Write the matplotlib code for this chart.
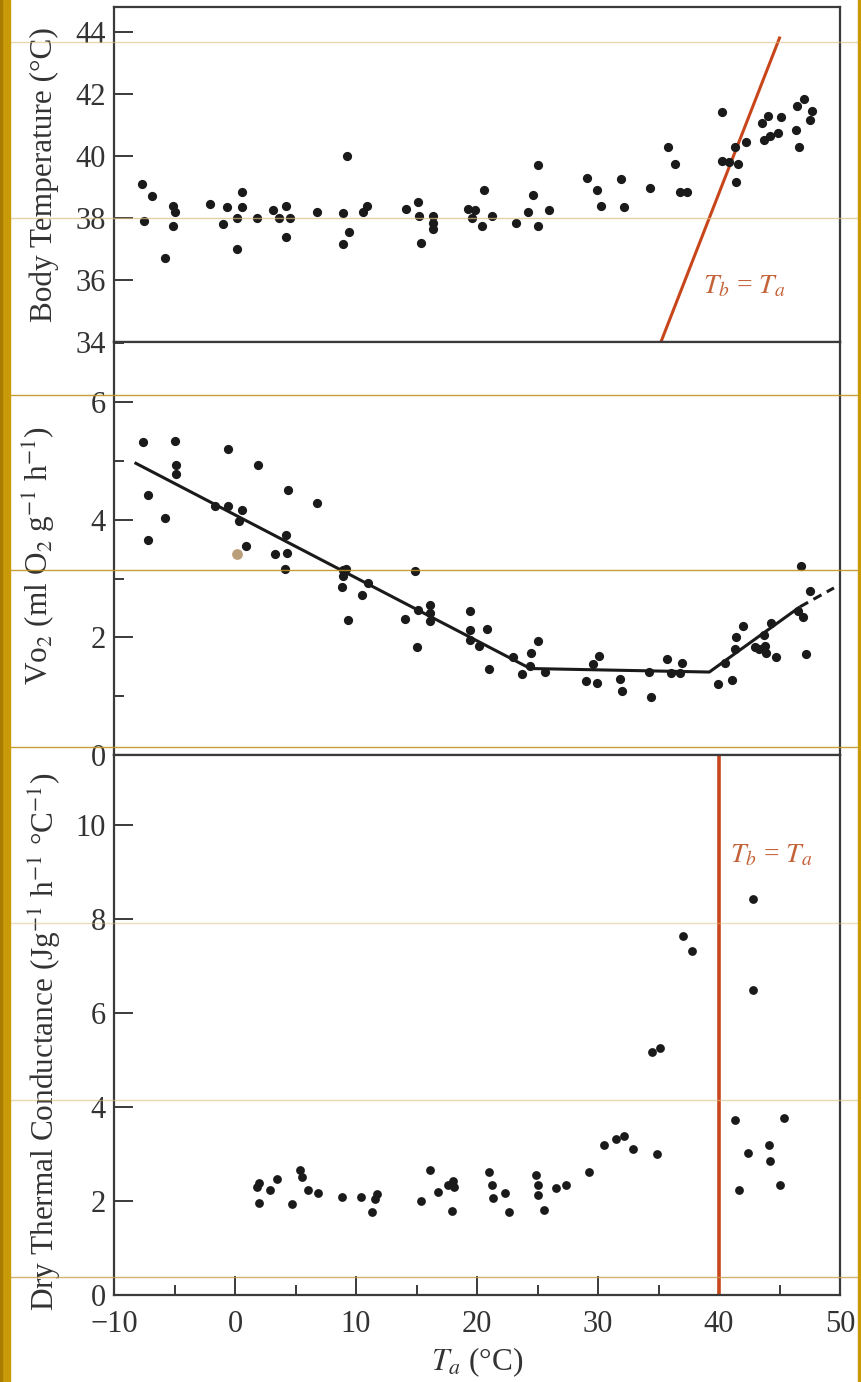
import matplotlib
matplotlib.use('Agg')
import matplotlib.pyplot as plt
from matplotlib.lines import Line2D
from matplotlib.patches import Rectangle
from matplotlib.ticker import MultipleLocator

plt.rcParams['font.family'] = ['Liberation Serif', 'DejaVu Serif']
plt.rcParams['mathtext.fontset'] = 'stix'

# ---------------- data ----------------
# Panel 1: body temperature vs ambient temperature
bt_ta = [-7.7, -7.5, -6.9, -5.8, -5.1, -5.0, -5.1,
         -2.1, -1.0, -0.7, 0.15, 0.15, 0.55, 0.55, 1.85,
         3.1, 3.65, 4.2, 4.55, 4.2, 6.8,
         8.9, 9.25, 9.4, 8.95, 10.55, 10.9,
         14.15, 15.1, 15.2, 15.4, 16.4, 16.4, 16.4,
         19.25, 19.8, 19.6, 20.55, 20.4, 21.25,
         23.25, 24.2, 24.6, 25.0, 25.05, 25.95,
         29.05, 29.95, 30.25, 31.9, 32.15, 34.3,
         35.8, 36.35, 36.75, 37.35,
         40.25, 40.25, 40.8, 41.35, 41.55, 41.4, 42.2,
         43.55, 44.05, 45.1, 43.7, 44.25, 44.9,
         46.45, 47.0, 46.4, 46.6, 47.65, 47.5]
bt_tb = [39.1, 37.9, 38.7, 36.7, 38.4, 38.2, 37.75,
         38.45, 37.8, 38.35, 38.0, 37.0, 38.85, 38.35, 38.0,
         38.25, 38.0, 38.4, 38.0, 37.4, 38.2,
         38.15, 40.0, 37.55, 37.15, 38.2, 38.4,
         38.3, 38.5, 38.05, 37.2, 38.05, 37.85, 37.65,
         38.3, 38.25, 38.0, 38.9, 37.75, 38.05,
         37.85, 38.2, 38.75, 37.75, 39.7, 38.25,
         39.3, 38.9, 38.4, 39.25, 38.35, 38.95,
         40.3, 39.75, 38.85, 38.85,
         41.4, 39.85, 39.8, 40.3, 39.75, 39.15, 40.45,
         41.05, 41.3, 41.25, 40.5, 40.65, 40.75,
         41.6, 41.85, 40.85, 40.3, 41.45, 41.15]
# Tb = Ta reference line (panel 1)
iso_ta = [35.2, 45.0]
iso_tb = [34.0, 43.8]

# Panel 2: oxygen consumption
vo_ta = [-7.6, -7.2, -7.15, -5.8, -4.95, -4.9, -4.85,
         -1.65, -0.55, -0.6, 0.6, 0.35, 0.95, 1.9,
         4.35, 4.2, 3.3, 4.3, 4.1, 6.8,
         8.9, 8.9, 9.2, 8.85, 9.3, 10.5, 11.0,
         14.05, 14.85, 15.1, 15.05, 16.1, 16.1, 16.1,
         19.4, 19.45, 19.4, 20.2, 20.8, 21.0,
         23.0, 23.75, 24.45, 24.4, 25.05, 25.6,
         29.0, 29.95, 29.6, 30.1, 31.85, 31.95,
         34.2, 34.35, 35.7, 36.05, 36.95, 36.8,
         39.95, 41.1, 40.5, 41.35, 41.4, 41.95,
         43.0, 43.3, 43.8, 43.85, 43.7, 44.3, 44.75,
         46.55, 46.95, 46.75, 47.5, 47.2]
vo_val = [5.32, 4.42, 3.65, 4.03, 5.34, 4.93, 4.77,
          4.24, 5.2, 4.24, 4.16, 3.97, 3.56, 4.93,
          4.5, 3.74, 3.42, 3.44, 3.16, 4.28,
          3.14, 3.04, 3.16, 2.86, 2.29, 2.72, 2.92,
          2.32, 3.12, 2.46, 1.83, 2.55, 2.41, 2.27,
          2.44, 2.12, 1.95, 1.85, 2.15, 1.46,
          1.66, 1.37, 1.73, 1.51, 1.94, 1.41,
          1.25, 1.22, 1.55, 1.68, 1.29, 1.09,
          1.41, 0.99, 1.64, 1.4, 1.56, 1.4,
          1.21, 1.27, 1.57, 1.81, 2.0, 2.19,
          1.84, 1.8, 1.85, 1.73, 2.04, 2.24, 1.67,
          2.45, 2.34, 3.22, 2.78, 1.71]
# stain on the scanned page
stain_ta = [0.2]
stain_val = [3.42]
# fitted piecewise line
fit_ta = [-8.3, 24.4, 39.2, 46.7]
fit_vo = [4.97, 1.47, 1.41, 2.52]
ext_ta = [46.7, 49.5]
ext_vo = [2.52, 2.84]

# Panel 3: dry thermal conductance
tc_ta = [1.85, 2.0, 2.0, 2.9, 3.5, 4.7, 5.4, 5.55, 6.0, 6.9,
         8.85, 10.4, 11.3, 11.55, 11.7,
         15.4, 16.1, 16.8, 17.6, 18.0, 18.1, 17.95,
         21.0, 21.2, 21.35, 22.3, 22.65,
         24.85, 25.05, 25.0, 25.55, 26.55, 27.35,
         29.25, 30.5, 31.45, 32.15, 32.9, 34.9, 34.5, 35.1,
         37.0, 37.75,
         42.8, 42.8, 41.35, 41.65, 42.4, 44.1, 44.25, 45.0, 45.35]
tc_val = [2.29, 2.39, 1.96, 2.24, 2.48, 1.93, 2.67, 2.52, 2.24, 2.17,
          2.09, 2.09, 1.76, 2.04, 2.16,
          2.0, 2.67, 2.19, 2.35, 2.43, 2.29, 1.78,
          2.63, 2.35, 2.06, 2.17, 1.76,
          2.55, 2.35, 2.13, 1.82, 2.28, 2.35,
          2.61, 3.2, 3.32, 3.39, 3.11, 3.0, 5.18, 5.27,
          7.65, 7.32,
          8.43, 6.49, 3.72, 2.23, 3.03, 3.19, 2.85, 2.35, 3.77]
tb_ta_vertical = 40.0

xticks = [-10, 0, 10, 20, 30, 40, 50]

# ---------------- style ----------------
INK = '#1a1a1a'
AX = '#3a3a3a'
RED = '#C8461C'
REDTXT = '#C4633A'
FS = 22

fig = plt.figure(figsize=(8.61, 13.82), dpi=100)
L, W = 114 / 861, 726 / 861
def fy(px):
    return 1 - px / 1382

ax1 = fig.add_axes([L, fy(342), W, (342 - 7) / 1382])
ax2 = fig.add_axes([L, fy(755), W, (755 - 342) / 1382])
ax3 = fig.add_axes([L, fy(1295), W, (1295 - 755) / 1382])

for ax in (ax1, ax2, ax3):
    ax.set_xlim(-10, 50)
    for s in ax.spines.values():
        s.set_color(AX)
        s.set_linewidth(1.6)
    ax.tick_params(axis='both', which='major', direction='in', length=14,
                   width=1.4, color=AX, labelsize=FS, labelcolor='#333333', pad=6)
    ax.tick_params(axis='both', which='minor', direction='in', length=7,
                   width=1.4, color=AX)
    ax.tick_params(axis='y', right=False)
    ax.tick_params(axis='x', top=False)

for ax in (ax1, ax2):
    ax.tick_params(axis='x', which='both', bottom=False, labelbottom=False)

# Panel 1
ax1.set_ylim(34, 44.8)
ax1.set_yticks([34, 36, 38, 40, 42, 44])
ax1.plot(iso_ta, iso_tb, color=RED, lw=2.2, zorder=2)
ax1.scatter(bt_ta, bt_tb, s=44, color=INK, zorder=3, linewidths=0)
ax1.text(38.7, 35.77, '$T_b$ = $T_a$', color=REDTXT, fontsize=20,
         ha='left', va='center')
ax1.set_ylabel('Body Temperature (°C)', fontsize=22.5, color='#333333',
               va='center', ha='center')
ax1.yaxis.set_label_coords(-0.0964, 0.5)

# Panel 2
ax2.set_ylim(0, 7.02)
ax2.yaxis.set_major_locator(MultipleLocator(2))
ax2.yaxis.set_minor_locator(MultipleLocator(1))
ax2.plot(fit_ta, fit_vo, color=INK, lw=2.2, zorder=2, solid_capstyle='butt')
ax2.plot(ext_ta, ext_vo, color=INK, lw=2.2, ls=(0, (3, 2)), zorder=2)
ax2.scatter(vo_ta, vo_val, s=44, color=INK, zorder=3, linewidths=0)
ax2.scatter(stain_ta, stain_val, s=60, color='#A8895A', alpha=0.8, zorder=3,
            linewidths=0)
ax2.set_ylabel('Vo$_2$ (ml O$_2$ g$^{-1}$ h$^{-1}$)', fontsize=22.5,
               color='#333333', va='center', ha='center')
ax2.yaxis.set_label_coords(-0.102, 0.482)

# Panel 3
ax3.set_ylim(0, 11.5)
ax3.set_yticks([0, 2, 4, 6, 8, 10])
ax3.set_xticks(xticks)
ax3.xaxis.set_minor_locator(MultipleLocator(5))
ax3.tick_params(axis='x', which='major', pad=11)
ax3.axvline(tb_ta_vertical, color=RED, lw=2.6, zorder=2)
ax3.scatter(tc_ta, tc_val, s=40, color=INK, zorder=3, linewidths=0)
ax3.text(40.9, 9.36, '$T_b$ = $T_a$', color=REDTXT, fontsize=20,
         ha='left', va='center')
ax3.set_ylabel('Dry Thermal Conductance (Jg$^{-1}$ h$^{-1}$ °C$^{-1}$)',
               fontsize=22.5, color='#333333', va='center', ha='center')
ax3.yaxis.set_label_coords(-0.095, 0.469)
ax3.set_xlabel('$T_a$ (°C)', fontsize=22.5, color='#333333', va='center')
ax3.xaxis.set_label_coords(0.5, -0.125)
ax3.set_xticklabels([str(t).replace('-', '\u2212') for t in xticks])

# ---------------- page decoration (scan / slide frame) ----------------
fig.add_artist(Rectangle((0, 0), 10 / 861, 1, transform=fig.transFigure,
                         color='#C99A08', zorder=20))
fig.add_artist(Rectangle((0, 0), 2 / 861, 1, transform=fig.transFigure,
                         color='#A87C00', zorder=21))
fig.add_artist(Rectangle((858 / 861, 0), 3 / 861, 1, transform=fig.transFigure,
                         color='#C99A08', zorder=20))
for ypx, col, a in [(42, '#D9BF80', 0.6), (218, '#D9BF80', 0.7),
                    (395, '#C39322', 0.9), (570, '#C39322', 0.9),
                    (747, '#C39322', 0.9), (923, '#D9BF80', 0.5),
                    (1100, '#D9BF80', 0.6), (1277, '#C9A050', 0.8)]:
    fig.add_artist(Line2D([10 / 861, 858 / 861], [fy(ypx), fy(ypx)],
                          transform=fig.transFigure, color=col, alpha=a,
                          lw=1.0, zorder=15))

fig.savefig('out.png', dpi=100)
